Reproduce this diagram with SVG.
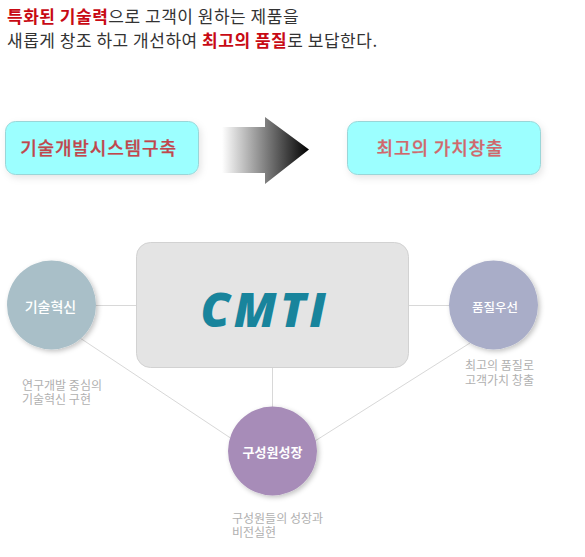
<svg xmlns="http://www.w3.org/2000/svg" width="585" height="557" viewBox="0 0 585 557">
<style>
text{font-family:"Noto Sans CJK KR","Noto Sans",sans-serif}
.h{font-size:17px;fill:#333;letter-spacing:.52px}
.r{fill:#c80a14;font-weight:700}
.box{fill:#9cffff;stroke:#9ad6d8;stroke-width:1;filter:url(#bs)}
.bt{font-size:18px;font-weight:500;text-anchor:middle;letter-spacing:.85px;stroke-width:.25px}
.c{filter:url(#cs)}
.ct{font-weight:500;fill:#fff;text-anchor:middle}
.cap{font-size:12px;fill:#b0b0b0}
.ln{stroke:#d8d8d8;stroke-width:1;fill:none}
</style>
<defs>
<linearGradient id="ag" gradientUnits="userSpaceOnUse" x1="222" y1="0" x2="309" y2="0"><stop offset="0" stop-color="#fff"/><stop offset="1" stop-color="#000"/></linearGradient>
<filter id="bs" x="-10%" y="-30%" width="120%" height="160%"><feDropShadow dx="2" dy="3" stdDeviation="3.500" flood-color="#000" flood-opacity=".1"/></filter>
<filter id="cs" x="-20%" y="-20%" width="145%" height="145%"><feDropShadow dx="2" dy="2" stdDeviation="2.500" flood-color="#000" flood-opacity=".24"/></filter>
</defs>
<rect width="585" height="557" fill="#fff"/>
<g id="headline">
<text class="h" x="7" y="23"><tspan class="r">특화된 기술력</tspan>으로 고객이 원하는 제품을</text>
<text class="h" x="7" y="47"><tspan>새롭게 창조 하고 개선하여 </tspan><tspan class="r">최고의 품질</tspan><tspan>로 보답한다.</tspan></text>
</g>
<g id="connectors">
<path class="ln" d="M96 305.500H136M409 305.500H449M272.500 368V407M80 338L232 439M470 343L315 441"/>
</g>
<g id="box-left"><rect class="box" x="5.500" y="121.500" width="193" height="53" rx="10"/><text class="bt" x="98.500" y="155" fill="#c0474d" stroke="#c0474d">기술개발시스템구축</text></g>
<g id="arrow"><polygon points="222,127 265,127 265,117 309,149.500 265,184 265,173 222,173" fill="url(#ag)"/></g>
<g id="box-right"><rect class="box" x="347.500" y="121.500" width="193" height="53" rx="10"/><text class="bt" x="440" y="155" fill="#d0686c" stroke="#d0686c">최고의 가치창출</text></g>
<g id="cmti"><rect x="136.500" y="242.500" width="272" height="125" rx="14" fill="#e4e4e4" stroke="#d2d2d2"/><text x="265" y="327" text-anchor="middle" font-size="47" font-weight="800" font-style="italic" letter-spacing="3.500" fill="#18849c" style="font-family:'Open Sans',sans-serif">CMTI</text></g>
<g id="node-tech"><circle class="c" cx="51.500" cy="305" r="44.500" fill="#a9bfc8"/><text class="ct" x="50.500" y="312" font-size="14">기술혁신</text><text class="cap"><tspan x="22" y="390">연구개발 중심의</tspan><tspan x="22" y="404">기술혁신 구현</tspan></text></g>
<g id="node-quality"><circle class="c" cx="493.500" cy="305" r="44.500" fill="#a9adc8"/><text class="ct" x="495" y="312" font-size="12.500">품질우선</text><text class="cap"><tspan x="465" y="370">최고의 품질로</tspan><tspan x="465" y="385">고객가치 창출</tspan></text></g>
<g id="node-people"><circle class="c" cx="272.500" cy="451" r="44.500" fill="#a78cb8"/><text class="ct" x="272.500" y="457" font-size="13" style="font-weight:700">구성원성장</text><text class="cap"><tspan x="232" y="523">구성원들의 성장과</tspan><tspan x="232" y="537">비전실현</tspan></text></g>
</svg>
